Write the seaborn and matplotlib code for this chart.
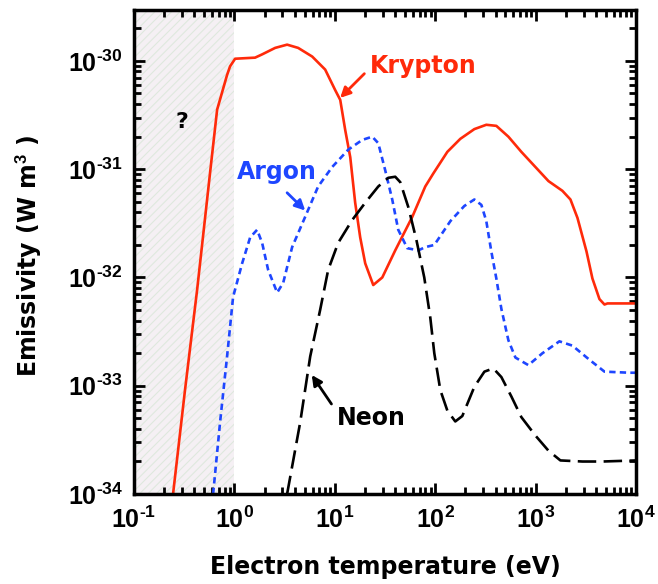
import numpy as np
import pandas as pd
import matplotlib
matplotlib.use("Agg")
import matplotlib.pyplot as plt
import seaborn as sns
from matplotlib.patches import Rectangle
from matplotlib.ticker import LogLocator, FixedLocator, NullFormatter

# ---- data (log10 values) ----
kr_logT = [-0.611, -0.492, -0.372, -0.242, -0.172, -0.073, -0.043, 0.007, 0.206, 0.276,
           0.406, 0.525, 0.635, 0.775, 0.904, 1.004, 1.054, 1.104, 1.154, 1.203,
           1.253, 1.303, 1.383, 1.473, 1.602, 1.772, 1.901, 1.981, 2.121, 2.250,
           2.390, 2.509, 2.609, 2.729, 2.858, 2.998, 3.128, 3.267, 3.347, 3.417,
           3.507, 3.566, 3.636, 3.686, 3.716, 4.0]
kr_logE = [-34.00, -33.04, -32.12, -31.03, -30.45, -30.13, -30.05, -29.98, -29.97, -29.94,
           -29.88, -29.85, -29.88, -29.96, -30.08, -30.27, -30.36, -30.64, -30.89, -31.31,
           -31.63, -31.87, -32.07, -32.00, -31.75, -31.44, -31.16, -31.04, -30.84, -30.72,
           -30.63, -30.59, -30.60, -30.70, -30.84, -30.98, -31.11, -31.20, -31.28, -31.45,
           -31.76, -32.01, -32.20, -32.25, -32.24, -32.24]

ar_logT = [-0.212, -0.143, -0.073, -0.013, 0.077, 0.157, 0.226, 0.276, 0.336, 0.426,
           0.486, 0.575, 0.705, 0.834, 0.974, 1.134, 1.273, 1.373, 1.433, 1.502,
           1.572, 1.632, 1.722, 1.832, 1.901, 1.991, 2.151, 2.290, 2.390, 2.460,
           2.509, 2.559, 2.609, 2.659, 2.729, 2.799, 2.928, 3.068, 3.237, 3.367,
           3.536, 3.686, 3.935, 4.0]
ar_logE = [-34.00, -33.34, -32.73, -32.18, -31.87, -31.63, -31.56, -31.68, -31.93, -32.14,
           -32.05, -31.72, -31.44, -31.16, -30.98, -30.82, -30.73, -30.70, -30.76, -31.01,
           -31.28, -31.56, -31.73, -31.75, -31.72, -31.70, -31.48, -31.34, -31.28, -31.33,
           -31.48, -31.76, -32.01, -32.29, -32.58, -32.74, -32.81, -32.70, -32.59, -32.63,
           -32.76, -32.87, -32.88, -32.88]

ne_logT = [0.525, 0.655, 0.755, 0.854, 0.934, 1.034, 1.173, 1.303, 1.433, 1.532,
           1.602, 1.652, 1.732, 1.812, 1.891, 1.951, 1.991, 2.051, 2.121, 2.200,
           2.270, 2.390, 2.490, 2.579, 2.659, 2.759, 2.858, 2.998, 3.128, 3.247,
           3.467, 3.666, 4.0]
ne_logE = [-34.00, -33.34, -32.73, -32.30, -31.93, -31.68, -31.47, -31.31, -31.16, -31.08,
           -31.07, -31.12, -31.35, -31.65, -32.00, -32.37, -32.70, -33.04, -33.23, -33.33,
           -33.28, -33.01, -32.87, -32.84, -32.92, -33.10, -33.29, -33.46, -33.60, -33.69,
           -33.70, -33.70, -33.69]

elements = ["Krypton", "Argon", "Neon"]
x_ticks = [1e-1, 1e0, 1e1, 1e2, 1e3, 1e4]
x_tick_exps = ["\u20101", "0", "1", "2", "3", "4"]
y_ticks = [1e-34, 1e-33, 1e-32, 1e-31, 1e-30]
y_tick_exps = ["\u201034", "\u201033", "\u201032", "\u201031", "\u201030"]

frames = []
for name, lt, le in [("Krypton", kr_logT, kr_logE), ("Argon", ar_logT, ar_logE),
                     ("Neon", ne_logT, ne_logE)]:
    frames.append(pd.DataFrame({"T": 10 ** np.array(lt), "E": 10 ** np.array(le),
                                "element": name}))
df = pd.concat(frames, ignore_index=True)

# ---- style ----
sns.set_style("ticks")
plt.rcParams["font.family"] = ["DejaVu Sans"]
plt.rcParams["mathtext.fontset"] = "custom"
plt.rcParams["mathtext.rm"] = "Liberation Sans:bold"
plt.rcParams["mathtext.bf"] = "Liberation Sans:bold"
plt.rcParams["mathtext.it"] = "Liberation Sans:bold"
plt.rcParams["hatch.linewidth"] = 0.8
for key in ["text.color", "axes.labelcolor", "xtick.color", "ytick.color",
            "xtick.labelcolor", "ytick.labelcolor"]:
    plt.rcParams[key] = "black"

RED = "#ff2a0a"
BLUE = "#1e46ff"
BLACK = "#000000"

fig = plt.figure(figsize=(6.58, 5.84), dpi=100)
ax = fig.add_axes([134 / 658, 90 / 584, 502 / 658, 484 / 584])

ax.set_xscale("log")
ax.set_yscale("log")
YTOP = 10 ** -29.53
ax.set_xlim(1e-1, 1e4)
ax.set_ylim(1e-34, YTOP)

# shaded unknown region
ax.add_patch(Rectangle((0.1, 1e-34), 0.9, YTOP - 1e-34, facecolor="#f5f0f4",
                       edgecolor="#dfe8de", hatch="////", linewidth=0, zorder=0))

sns.lineplot(data=df, x="T", y="E", hue="element", style="element",
             palette={"Krypton": RED, "Argon": BLUE, "Neon": BLACK},
             dashes={"Krypton": "", "Argon": (2.4, 1.6), "Neon": (7, 2.8)},
             sort=False, estimator=None, linewidth=1.9, legend=False, ax=ax, zorder=3)

# ticks
ax.xaxis.set_major_locator(FixedLocator(x_ticks))
ax.set_xticklabels([r"$\mathbf{10^{%s}}$" % s for s in x_tick_exps])
ax.xaxis.set_minor_locator(LogLocator(base=10, subs=np.arange(2, 10), numticks=20))
ax.yaxis.set_major_locator(FixedLocator(y_ticks))
ax.set_yticklabels([r"$\mathbf{10^{%s}}$" % s for s in y_tick_exps])
ax.yaxis.set_minor_locator(LogLocator(base=10, subs=np.arange(2, 10), numticks=20))
ax.yaxis.set_minor_formatter(NullFormatter())
ax.xaxis.set_minor_formatter(NullFormatter())

ax.tick_params(which="both", direction="in", top=True, right=True, width=2,
               color="black", labelcolor="black")
ax.tick_params(which="major", length=8, labelsize=18)
ax.tick_params(axis="x", which="major", pad=9)
ax.tick_params(axis="y", which="major", pad=8)
ax.tick_params(which="minor", length=5)
for sp in ax.spines.values():
    sp.set_linewidth(2.5)
    sp.set_color("black")
    sp.set_zorder(5)

ax.set_xlabel("Electron temperature (eV)", fontsize=17, fontweight="bold", color="black")
ax.set_ylabel("Emissivity (W m$^{3}$ )", fontsize=17, fontweight="bold", color="black")
ax.xaxis.set_label_coords(0.5, -0.126)
ax.yaxis.set_label_coords(-0.18, 0.492)

# annotations
arrow_kw = dict(arrowstyle="-|>,head_length=0.6,head_width=0.3", lw=2)
ax.annotate("", xy=(10.8, 10 ** -30.36), xytext=(20.6, 10 ** -30.10),
            arrowprops=dict(color=RED, **arrow_kw), zorder=4)
ax.text(22.5, 10 ** -30.05, "Krypton", color=RED, fontsize=17, fontweight="bold",
        ha="left", va="center")
ax.annotate("", xy=(5.31, 10 ** -31.40), xytext=(3.2, 10 ** -31.20),
            arrowprops=dict(color=BLUE, **arrow_kw), zorder=4)
ax.text(1.06, 10 ** -31.03, "Argon", color=BLUE, fontsize=17, fontweight="bold",
        ha="left", va="center")
ax.annotate("", xy=(5.69, 10 ** -32.88), xytext=(9.6, 10 ** -33.19),
            arrowprops=dict(color=BLACK, **arrow_kw), zorder=4)
ax.text(10.6, 10 ** -33.30, "Neon", color=BLACK, fontsize=17, fontweight="bold",
        ha="left", va="center")
ax.text(0.301, 10 ** -30.56, "?", color=BLACK, fontsize=16, fontweight="bold",
        ha="center", va="center")

fig.savefig("out.png", dpi=100)
